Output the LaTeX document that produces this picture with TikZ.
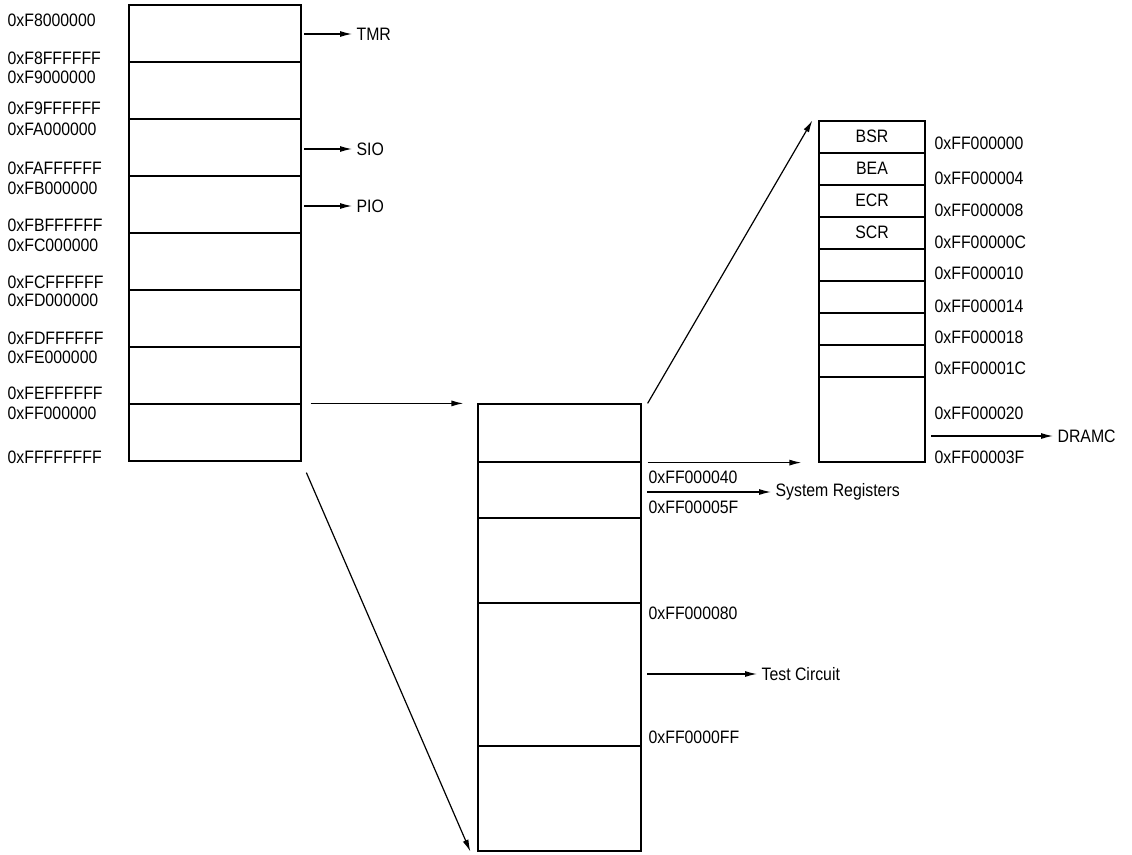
\documentclass[tikz,border=0pt]{standalone}
\usepackage{fontspec}
\setmainfont{Liberation Sans}[FakeStretch=0.88]
\usetikzlibrary{positioning}
\usetikzlibrary{arrows.meta}
\newcommand{\addrfont}{\fontsize{18}{21}\selectfont}

\begin{document}
\begin{tikzpicture}[
    x=1pt, y=-1pt,
    line width=1.2pt,
    cell/.style={draw, inner sep=0pt, minimum width=#1, font=\addrfont},
    addr/.style={anchor=west, inner sep=1pt, font=\addrfont},
    lbl/.style={anchor=west, inner sep=4pt, font=\addrfont},
    >={Latex[length=12pt, width=6pt]}
]
    \useasboundingbox (0,0) rectangle (1132,854);

    \foreach \i in {0,...,7}
        \node[cell=172pt, minimum height=57pt] (L\i) at (215, {33.5+57*\i}) {};

    \foreach \a/\ys/\ye in {F8/20/58, F9/77/108, FA/129/168, FB/188/225,
                            FC/245/282, FD/300/338, FE/357/393, FF/413/457} {
        \node[addr] (s\a) at (6,\ys) {0x\a{}000000};
        \node[addr] (e\a) at (6,\ye) {0x\a{}FFFFFF};
    }

    \foreach \n/\y in {TMR/34, SIO/149, PIO/206} {
        \coordinate (\n-src) at (304,\y);
        \node[lbl] (\n) at (352,\y) {\n};
        \draw[->] (\n-src) -- (\n);
    }

    \foreach \t/\b [count=\i] in {404/462, 462/518, 518/603, 603/746, 746/851}
        \node[cell=163pt, minimum height={(\b-\t)*1pt}] (M\i) at (559.5, {(\t+\b)/2}) {};

    \draw[->, shorten <=9pt, shorten >=14pt] (L7.north east) -- (M1.north west);
    \draw[->, shorten <=12pt] (L7.south east) -- ([xshift=-7pt]M5.south west);

    \node[addr] (m040) at (647,477) {0xFF000040};
    \node[addr] (m05F) at (647,507) {0xFF00005F};
    \node[addr] (m080) at (647,613) {0xFF000080};
    \node[addr] (m0FF) at (647,737) {0xFF0000FF};

    \coordinate (sys-src) at (647,492);
    \node[lbl] (sys) at (771,492) {System Registers};
    \draw[->] (sys-src) -- (sys);

    \coordinate (test-src) at (647,674);
    \node[lbl] (test) at (757,674) {Test Circuit};
    \draw[->] (test-src) -- (test);

    \foreach \r [count=\i] in {BSR,BEA,ECR,SCR,{},{},{},{}}
        \node[cell=106pt, minimum height=32pt] (R\i) at (872, {105+32*\i}) {\raisebox{2pt}{\r}};
    \node[cell=106pt, minimum height=85pt] (R9) at (872, 419.5) {};

    \foreach \o/\y in {000/143, 004/178, 008/210, 00C/242, 010/273,
                       014/306, 018/337, 01C/368, 020/413, 03F/457}
        \node[addr] (r\o) at (933,\y) {0xFF000\o};

    \coordinate (dramc-src) at (931,436);
    \node[lbl] (dramc) at (1053,436) {DRAMC};
    \draw[->] (dramc-src) -- (dramc);

    \draw[->] ([xshift=6pt]M1.north east) -- ([xshift=-6pt]R1.north west);
    \draw[->, shorten <=6pt, shorten >=17pt] (M1.south east) -- (R9.south west);
\end{tikzpicture}
\end{document}
